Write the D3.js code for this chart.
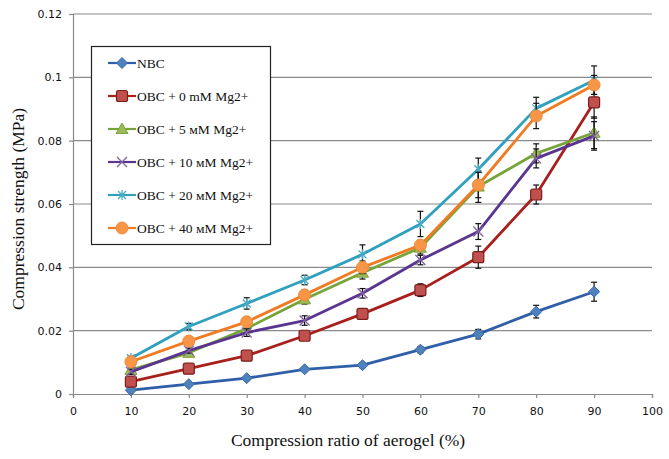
<!DOCTYPE html>
<html><head><meta charset="utf-8">
<script src="https://cdn.jsdelivr.net/npm/d3@7/dist/d3.min.js"></script>
<style>body{margin:0;background:#fff}svg{display:block}</style>
</head><body>
<svg id="chart" width="669" height="459"></svg>
<script>
const ratios = [10, 20, 30, 40, 50, 60, 70, 80, 90];
const xTicks = [0, 10, 20, 30, 40, 50, 60, 70, 80, 90, 100];
const yTicks = [0, 0.02, 0.04, 0.06, 0.08, 0.1, 0.12];
const yTickLabels = ["0", "0.02", "0.04", "0.06", "0.08", "0.1", "0.12"];
const seriesNames = ["NBC", "OBC + 0 mM Mg2+", "OBC + 5 мM Mg2+", "OBC + 10 мM Mg2+", "OBC + 20 мM Mg2+", "OBC + 40 мM Mg2+"];
const nbc   = [0.0012, 0.0031, 0.0050, 0.0078, 0.0091, 0.0140, 0.0189, 0.0260, 0.0323];
const obc0  = [0.0039, 0.0080, 0.0121, 0.0184, 0.0253, 0.0328, 0.0432, 0.0630, 0.0921];
const obc5  = [0.0076, 0.0130, 0.0207, 0.0299, 0.0383, 0.0462, 0.0655, 0.0760, 0.0825];
const obc10 = [0.0070, 0.0137, 0.0194, 0.0232, 0.0318, 0.0423, 0.0513, 0.0744, 0.0815];
const obc20 = [0.0113, 0.0213, 0.0286, 0.0360, 0.0441, 0.0537, 0.0710, 0.0902, 0.0991];
const obc40 = [0.0102, 0.0167, 0.0228, 0.0313, 0.0400, 0.0470, 0.0660, 0.0878, 0.0976];
const errNbc   = [0.0005, 0.0005, 0.0006, 0.0007, 0.0008, 0.0010, 0.0015, 0.0020, 0.0030];
const err0     = [0.0008, 0.0008, 0.0010, 0.0012, 0.0015, 0.0020, 0.0035, 0.0030, 0.0050];
const err5     = [0.0008, 0.0008, 0.0012, 0.0015, 0.0020, 0.0020, 0.0050, 0.0030, 0.0050];
const err10    = [0.0008, 0.0008, 0.0012, 0.0015, 0.0015, 0.0015, 0.0025, 0.0030, 0.0045];
const err20    = [0.0006, 0.0010, 0.0018, 0.0015, 0.0030, 0.0040, 0.0035, 0.0035, 0.0045];
const err40    = [0.0006, 0.0008, 0.0012, 0.0015, 0.0020, 0.0015, 0.0040, 0.0040, 0.0030];

const seriesValues = [nbc, obc0, obc5, obc10, obc20, obc40];
const seriesErrors = [errNbc, err0, err5, err10, err20, err40];
const lineColors = ["#2F5FA8", "#A8201E", "#77A43A", "#5A3590", "#2FA0BD", "#F07B22"];
const markerFill = ["#4F81BD", "#C0504D", "#9BBB59", "#8064A2", "#4BACC6", "#F79646"];
const markerStroke = ["#3A68A8", "#7A1E1C", "#7EA23E", "#7A5FB0", "#4BACC6", "#F08A3A"];
const markerType = ["diamond", "square", "triangle", "x", "star", "circle"];

const svg = d3.select("#chart");
const x = d3.scaleLinear().domain([0, 100]).range([73, 652]);
const y = d3.scaleLinear().domain([0, 0.12]).range([394, 14]);

// gridlines
svg.append("g").selectAll("line").data(yTicks.filter(d => d > 0)).join("line")
  .attr("x1", x(0)).attr("x2", x(100))
  .attr("y1", d => y(d)).attr("y2", d => y(d))
  .attr("stroke", "#8a8a8a").attr("stroke-width", 1.2);

// axes
const yAxis = d3.axisLeft(y).tickValues(yTicks).tickSize(4).tickPadding(7)
  .tickFormat((d, i) => yTickLabels[i]);
const gy = svg.append("g").attr("transform", `translate(${x(0)},0)`).call(yAxis);
const xAxis = d3.axisBottom(x).tickValues(xTicks).tickSize(4).tickPadding(9);
const gx = svg.append("g").attr("transform", `translate(0,${y(0)})`).call(xAxis);
[gx, gy].forEach(g => {
  g.select(".domain").attr("stroke", "#8a8a8a").attr("stroke-width", 1.2);
  g.selectAll(".tick line").attr("stroke", "#8a8a8a").attr("stroke-width", 1.2);
  g.selectAll(".tick text").attr("fill", "#111").attr("font-family", "DejaVu Sans, Verdana, sans-serif")
    .attr("font-size", 11);
});

// axis titles
svg.append("text").attr("x", 348).attr("y", 446).attr("text-anchor", "middle")
  .attr("font-family", "Liberation Serif, Times New Roman, serif").attr("font-size", 17.5)
  .attr("fill", "#111").text("Compression ratio of aerogel  (%)");
svg.append("text").attr("transform", "translate(24,209) rotate(-90)").attr("text-anchor", "middle")
  .attr("font-family", "Liberation Serif, Times New Roman, serif").attr("font-size", 17.5)
  .attr("fill", "#111").text("Compression strength  (MPa)");

function drawMarker(g, type, cx, cy, i) {
  const f = markerFill[i], s = markerStroke[i];
  if (type === "diamond") {
    g.append("path").attr("d", `M${cx},${cy-5.5}L${cx+5.5},${cy}L${cx},${cy+5.5}L${cx-5.5},${cy}Z`)
      .attr("fill", f).attr("stroke", s).attr("stroke-width", 1);
  } else if (type === "square") {
    g.append("rect").attr("x", cx-5.5).attr("y", cy-5.5).attr("width", 11).attr("height", 11).attr("rx", 2)
      .attr("fill", f).attr("stroke", s).attr("stroke-width", 1.2);
  } else if (type === "triangle") {
    g.append("path").attr("d", `M${cx},${cy-6}L${cx+6},${cy+4.5}L${cx-6},${cy+4.5}Z`)
      .attr("fill", f).attr("stroke", s).attr("stroke-width", 1);
  } else if (type === "circle") {
    g.append("circle").attr("cx", cx).attr("cy", cy).attr("r", 6)
      .attr("fill", f).attr("stroke", s).attr("stroke-width", 1);
  } else if (type === "x") {
    g.append("path").attr("d", `M${cx-5},${cy-5}L${cx+5},${cy+5}M${cx-5},${cy+5}L${cx+5},${cy-5}`)
      .attr("stroke", f).attr("stroke-width", 1.3).attr("fill", "none");
  } else if (type === "star") {
    g.append("path").attr("d", `M${cx-4},${cy-4}L${cx+4},${cy+4}M${cx-4},${cy+4}L${cx+4},${cy-4}M${cx},${cy-5}L${cx},${cy+5}`)
      .attr("stroke", f).attr("stroke-width", 1.3).attr("fill", "none");
  }
}

const line = d3.line().x((d, j) => x(ratios[j])).y(d => y(d));

seriesValues.forEach((vals, i) => {
  const g = svg.append("g");
  const eg = g.append("g").attr("stroke", "#111").attr("stroke-width", 1.2);
  vals.forEach((v, j) => {
    const e = seriesErrors[i][j];
    const cx = x(ratios[j]);
    eg.append("line").attr("x1", cx).attr("x2", cx).attr("y1", y(v + e)).attr("y2", y(v - e));
    eg.append("line").attr("x1", cx - 3).attr("x2", cx + 3).attr("y1", y(v + e)).attr("y2", y(v + e));
    eg.append("line").attr("x1", cx - 3).attr("x2", cx + 3).attr("y1", y(v - e)).attr("y2", y(v - e));
  });
  g.append("path").datum(vals).attr("d", line).attr("fill", "none")
    .attr("stroke", lineColors[i]).attr("stroke-width", 2.8).attr("stroke-linejoin", "round");
  vals.forEach((v, j) => drawMarker(g, markerType[i], x(ratios[j]), y(v), i));
});

// legend
const lg = svg.append("g");
lg.append("rect").attr("x", 91.5).attr("y", 46.5).attr("width", 179).attr("height", 198)
  .attr("fill", "#fff").attr("stroke", "#222").attr("stroke-width", 1.2);
seriesNames.forEach((name, i) => {
  const cy = 63 + i * 33;
  lg.append("line").attr("x1", 108).attr("x2", 136).attr("y1", cy).attr("y2", cy)
    .attr("stroke", lineColors[i]).attr("stroke-width", 2.2);
  drawMarker(lg, markerType[i], 122, cy, i);
  lg.append("text").attr("x", 137).attr("y", cy + 4.5)
    .attr("font-family", "Liberation Serif, Times New Roman, serif").attr("font-size", 13.5)
    .attr("fill", "#111").text(name);
});
</script>
</body></html>
